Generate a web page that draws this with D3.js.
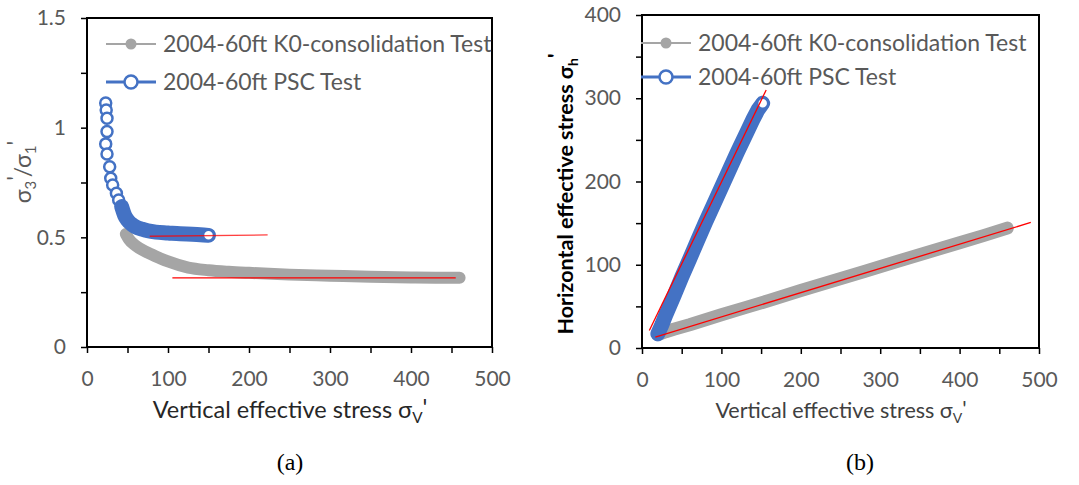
<!DOCTYPE html>
<html>
<head>
<meta charset="utf-8">
<script src="https://cdn.jsdelivr.net/npm/d3@7"></script>
<style>
  body { margin: 0; background: #fff; }
  svg { display: block; font-family: Lato, "Open Sans", sans-serif; }
</style>
</head>
<body>
<div id="chart"></div>
<script>
"use strict";

/* DATA */

// (a) K0-consolidation test: vertical stress vs ratio s3'/s1'
let k0RatioV = [48, 52, 60, 75, 90, 100, 125, 150, 175, 200, 250, 300, 350, 400, 430, 460];
let k0RatioR = [0.515, 0.49, 0.462, 0.43, 0.405, 0.39, 0.362, 0.35, 0.343, 0.338, 0.33, 0.325, 0.32, 0.317, 0.316, 0.316];

// (a) PSC test: first part shows single circles, rest is a dense band
let pscRatioV = [23.1, 23.7, 24.7, 24.7, 23.1, 24.7, 28, 29.3, 31.7, 36.3, 39.1, 42.8, 46.5, 50, 55, 60, 68, 75, 85, 100, 115, 130, 140, 150];
let pscRatioR = [1.112, 1.081, 1.043, 0.982, 0.926, 0.88, 0.822, 0.769, 0.739, 0.701, 0.67, 0.64, 0.6, 0.578, 0.56, 0.548, 0.537, 0.53, 0.524, 0.52, 0.516, 0.514, 0.512, 0.509];

// (a) trend lines [x1, x2], [y1, y2]
let pscRatioFitV = [77.4, 223];
let pscRatioFitR = [0.505, 0.511];
let k0RatioFitV = [105.4, 455.2];
let k0RatioFitR = [0.315, 0.315];

// (b) K0-consolidation test: vertical vs horizontal stress
let k0StressV = [20, 30, 40, 60, 80, 100, 130, 160, 200, 240, 280, 320, 360, 400, 430, 460];
let k0StressH = [16, 19.5, 22.5, 28, 34, 40, 48.5, 57, 69, 80.5, 92, 103.5, 115, 126.5, 135, 144];

// (b) PSC test
let pscStressV = [20, 25, 30, 40, 50, 60, 70, 80, 90, 100, 110, 120, 130, 140, 146, 152];
let pscStressH = [17, 28, 40, 62, 85, 107, 129, 151, 172, 193, 214, 235, 255, 275, 286, 294];

// (b) trend lines
let pscStressFitV = [9.2, 156.4];
let pscStressFitH = [21, 310];
let k0StressFitV = [16.8, 489.7];
let k0StressFitH = [13.2, 150.8];

// legend names
let seriesNames = ["2004-60ft K0-consolidation Test", "2004-60ft PSC Test"];

// ticks
let xTicks = d3.range(0, 501, 50);
let ratioTicks = [0, 0.25, 0.5, 0.75, 1, 1.25, 1.5];
let stressTicks = d3.range(0, 401, 50);


/* SVG SETUP */

let svgWidth = 1079;
let svgHeight = 485;

let svg = d3.select("#chart")
    .append("svg")
    .attr("width", svgWidth)
    .attr("height", svgHeight);

let grayColor = "#a5a5a5";
let blueColor = "#4472c4";
let labelColor = "#595959";


/* SCALES */

let xA = d3.scaleLinear().domain([0, 500]).range([87, 492]);
let yA = d3.scaleLinear().domain([0, 1.5]).range([347, 18]);

let xB = d3.scaleLinear().domain([0, 500]).range([642, 1039]);
let yB = d3.scaleLinear().domain([0, 400]).range([348, 15]);


/* AXES + FRAME */

function drawAxes(x, y, yTicks, yLabel) {

    // bottom axis
    let gx = svg.append("g")
        .attr("transform", "translate(0," + y.range()[0] + ")")
        .call(d3.axisBottom(x)
            .tickValues(xTicks)
            .tickSize(6)
            .tickPadding(18)
            .tickFormat(d => d % 100 === 0 ? d : ""));

    // left axis
    let gy = svg.append("g")
        .attr("transform", "translate(" + x.range()[0] + ",0)")
        .call(d3.axisLeft(y)
            .tickValues(yTicks)
            .tickSize(6)
            .tickPadding(15)
            .tickFormat(yLabel));

    [gx, gy].forEach(g => {
        g.select(".domain").remove();
        g.selectAll(".tick line").attr("stroke", "#000").attr("stroke-width", 1.5);
        g.selectAll(".tick text")
            .attr("fill", labelColor)
            .attr("font-size", "21px")
            .attr("font-family", "Lato, sans-serif");
    });

    // frame around plot area
    svg.append("rect")
        .attr("x", x.range()[0])
        .attr("y", y.range()[1])
        .attr("width", x.range()[1] - x.range()[0])
        .attr("height", y.range()[0] - y.range()[1])
        .attr("fill", "none")
        .attr("stroke", "#000")
        .attr("stroke-width", 2);
}

drawAxes(xA, yA, ratioTicks, d => (d * 2) % 1 === 0 ? String(d) : "");
drawAxes(xB, yB, stressTicks, d => d % 100 === 0 ? d : "");


/* SERIES */

// dense data looks like a thick band in the original
function drawBand(x, y, vs, ys, color, width, smooth) {
    let pts = vs.map((v, i) => [x(v), y(ys[i])]);
    let line = d3.line();
    if (smooth) {
        line.curve(d3.curveMonotoneX);
    }
    svg.append("path")
        .attr("d", line(pts))
        .attr("fill", "none")
        .attr("stroke", color)
        .attr("stroke-width", width)
        .attr("stroke-linecap", "round")
        .attr("stroke-linejoin", "round");
}

function drawFit(x, y, vs, ys, opacity) {
    svg.append("line")
        .attr("x1", x(vs[0]))
        .attr("y1", y(ys[0]))
        .attr("x2", x(vs[1]))
        .attr("y2", y(ys[1]))
        .attr("stroke", "#ff0000")
        .attr("stroke-opacity", opacity)
        .attr("stroke-width", 1.3);
}

function drawHollow(x, y, v, r) {
    svg.append("circle")
        .attr("cx", x(v))
        .attr("cy", y(r))
        .attr("r", 5.5)
        .attr("fill", "#fff")
        .attr("stroke", blueColor)
        .attr("stroke-width", 2.5);
}

// panel (a)
drawBand(xA, yA, k0RatioV, k0RatioR, grayColor, 12, true);

// sparse circles first, dense band after v > 45
let pscDenseStart = pscRatioV.findIndex(v => v > 45);
for (let i = 0; i < pscDenseStart; i++) {
    drawHollow(xA, yA, pscRatioV[i], pscRatioR[i]);
}
drawBand(xA, yA, pscRatioV.slice(pscDenseStart - 1), pscRatioR.slice(pscDenseStart - 1), blueColor, 15, true);
drawHollow(xA, yA, pscRatioV[pscRatioV.length - 1], pscRatioR[pscRatioR.length - 1]);

drawFit(xA, yA, pscRatioFitV, pscRatioFitR, 0.75);
drawFit(xA, yA, k0RatioFitV, k0RatioFitR, 1);

// panel (b)
drawBand(xB, yB, k0StressV, k0StressH, grayColor, 13, false);
drawBand(xB, yB, pscStressV, pscStressH, blueColor, 15, false);
drawHollow(xB, yB, pscStressV[pscStressV.length - 1], pscStressH[pscStressH.length - 1]);

drawFit(xB, yB, pscStressFitV, pscStressFitH, 1);
drawFit(xB, yB, k0StressFitV, k0StressFitH, 1);


/* LEGENDS */

function drawLegend(x0, rowY) {

    // gray row
    svg.append("line")
        .attr("x1", x0).attr("x2", x0 + 50)
        .attr("y1", rowY[0]).attr("y2", rowY[0])
        .attr("stroke", grayColor).attr("stroke-width", 2);
    svg.append("circle")
        .attr("cx", x0 + 25).attr("cy", rowY[0]).attr("r", 5.5)
        .attr("fill", grayColor);

    // blue row
    svg.append("line")
        .attr("x1", x0).attr("x2", x0 + 50)
        .attr("y1", rowY[1]).attr("y2", rowY[1])
        .attr("stroke", blueColor).attr("stroke-width", 3);
    svg.append("circle")
        .attr("cx", x0 + 25).attr("cy", rowY[1]).attr("r", 6.5)
        .attr("fill", "#fff").attr("stroke", blueColor).attr("stroke-width", 2.5);

    seriesNames.forEach((name, i) => {
        svg.append("text")
            .attr("x", x0 + 57)
            .attr("y", rowY[i] + 8)
            .attr("fill", labelColor)
            .attr("font-size", "23px")
            .text(name);
    });
}

drawLegend(106, [44, 82]);
drawLegend(641, [43, 77]);


/* AXIS TITLES */

// (a) y title: s3'/s1'
let yTitleA = svg.append("text")
    .attr("transform", "translate(31,172) rotate(-90)")
    .attr("text-anchor", "middle")
    .attr("fill", labelColor)
    .attr("font-size", "23px");
yTitleA.append("tspan").text("σ");
yTitleA.append("tspan").attr("font-size", "15px").attr("dy", 5).text("3");
yTitleA.append("tspan").attr("dy", -12).text("'");
yTitleA.append("tspan").attr("dy", 7).text("/σ");
yTitleA.append("tspan").attr("font-size", "15px").attr("dy", 5).text("1");
yTitleA.append("tspan").attr("dy", -12).text("'");

// (b) y title
let yTitleB = svg.append("text")
    .attr("transform", "translate(573,194) rotate(-90)")
    .attr("text-anchor", "middle")
    .attr("fill", "#000")
    .attr("font-weight", "bold")
    .attr("font-size", "21.5px");
yTitleB.append("tspan").text("Horizontal effective stress σ");
yTitleB.append("tspan").attr("font-size", "14px").attr("dy", 5).text("h");
yTitleB.append("tspan").attr("dy", -15).text("'");

// x titles
function xTitle(cx, color, size, gap) {
    let t = svg.append("text")
        .attr("x", cx)
        .attr("y", 418)
        .attr("text-anchor", "middle")
        .attr("fill", color)
        .attr("font-size", size + "px");
    t.append("tspan").text("Vertical effective stress" + gap + "σ");
    t.append("tspan").attr("font-size", (size * 0.65) + "px").attr("dy", 5).text("V");
    t.append("tspan").attr("dy", -7).text("'");
}

xTitle(290, "#262626", 23.5, "  ");
xTitle(841, "#404040", 21.5, " ");


/* PANEL LABELS */

svg.append("text")
    .attr("x", 290)
    .attr("y", 470)
    .attr("text-anchor", "middle")
    .attr("font-family", "'Liberation Serif', serif")
    .attr("font-size", "24px")
    .text("(a)");

svg.append("text")
    .attr("x", 860)
    .attr("y", 470)
    .attr("text-anchor", "middle")
    .attr("font-family", "'Liberation Serif', serif")
    .attr("font-size", "24px")
    .text("(b)");
</script>
</body>
</html>
